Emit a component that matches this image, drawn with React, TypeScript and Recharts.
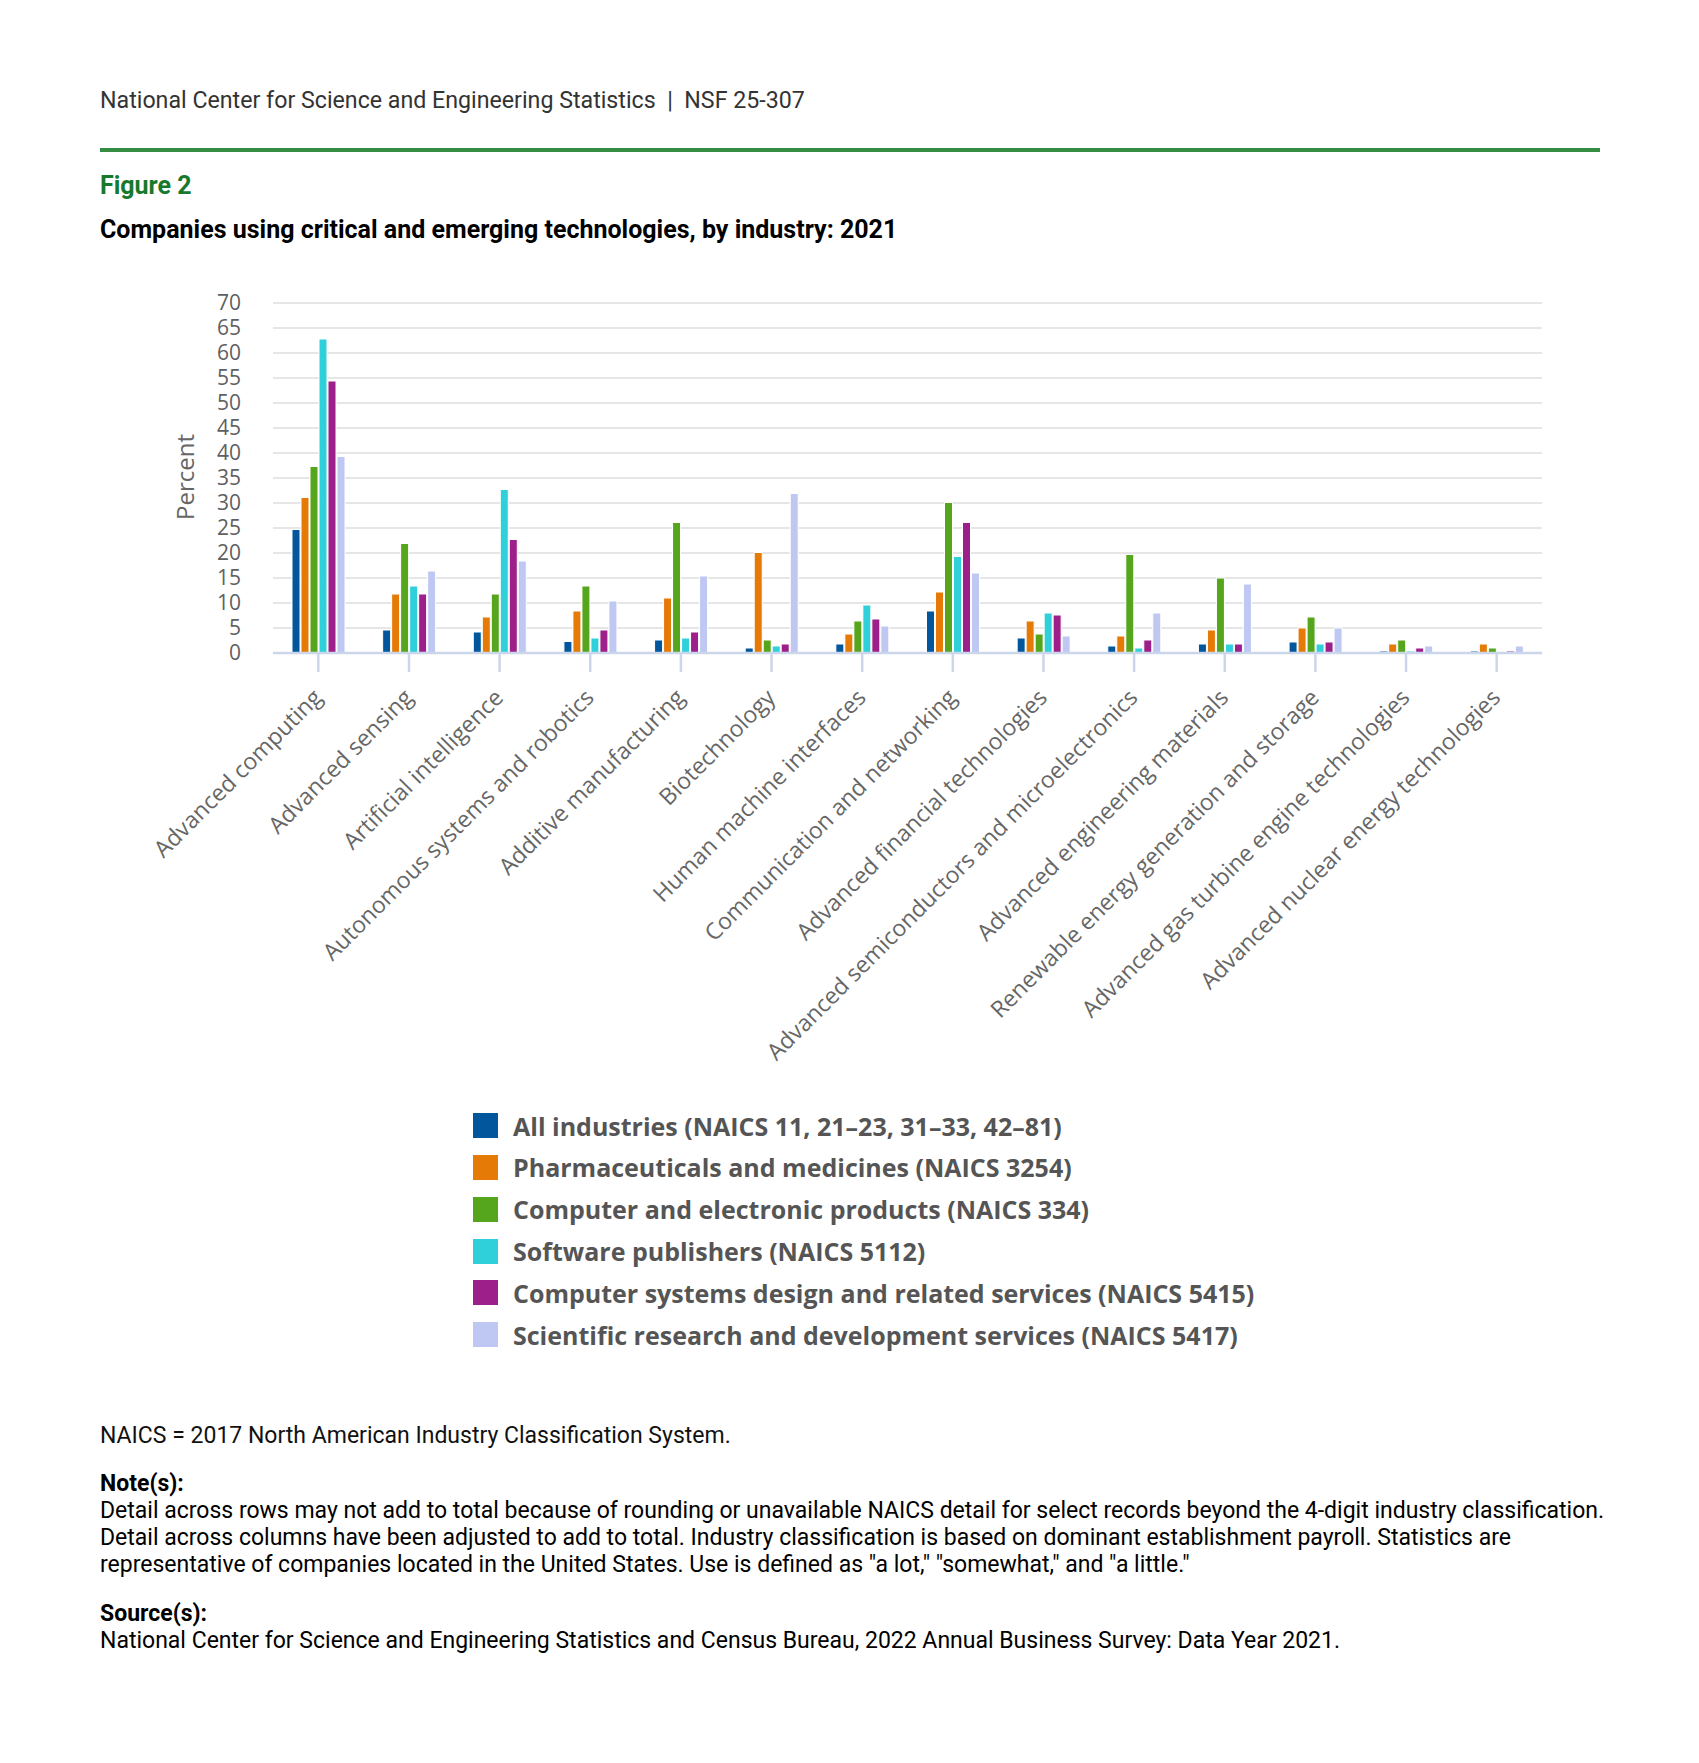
import React from "react";
import { BarChart, Bar, XAxis, YAxis, CartesianGrid } from "recharts";

const categories = [
  "Advanced computing",
  "Advanced sensing",
  "Artificial intelligence",
  "Autonomous systems and robotics",
  "Additive manufacturing",
  "Biotechnology",
  "Human machine interfaces",
  "Communication and networking",
  "Advanced financial technologies",
  "Advanced semiconductors and microelectronics",
  "Advanced engineering materials",
  "Renewable energy generation and storage",
  "Advanced gas turbine engine technologies",
  "Advanced nuclear energy technologies",
];

const allIndustries = [24.7, 4.6, 4.2, 2.3, 2.6, 1.0, 1.8, 8.4, 3.0, 1.4, 1.8, 2.2, 0.4, 0.4];
const pharma = [31.1, 11.8, 7.2, 8.4, 11.0, 20.1, 3.8, 12.2, 6.4, 3.4, 4.6, 5.0, 1.8, 1.8];
const computerElectronic = [37.3, 21.9, 11.8, 13.4, 26.1, 2.6, 6.4, 30.1, 3.8, 19.7, 15.0, 7.2, 2.6, 1.0];
const software = [62.8, 13.4, 32.7, 3.0, 3.0, 1.4, 9.6, 19.3, 8.0, 1.0, 1.8, 1.8, 0.4, 0];
const computerSystems = [54.4, 11.8, 22.7, 4.6, 4.2, 1.8, 6.8, 26.1, 7.6, 2.6, 1.8, 2.2, 1.0, 0.4];
const scientificRD = [39.3, 16.4, 18.4, 10.4, 15.4, 31.9, 5.4, 16.0, 3.4, 8.0, 13.8, 5.0, 1.4, 1.4];

const yTicks = [0, 5, 10, 15, 20, 25, 30, 35, 40, 45, 50, 55, 60, 65, 70];

const series = [
  { key: "all", name: "All industries (NAICS 11, 21–23, 31–33, 42–81)", color: "#02579c", values: allIndustries },
  { key: "pharma", name: "Pharmaceuticals and medicines (NAICS 3254)", color: "#e57a06", values: pharma },
  { key: "cep", name: "Computer and electronic products (NAICS 334)", color: "#56a61d", values: computerElectronic },
  { key: "soft", name: "Software publishers (NAICS 5112)", color: "#2fd0da", values: software },
  { key: "csd", name: "Computer systems design and related services (NAICS 5415)", color: "#9d1f89", values: computerSystems },
  { key: "srd", name: "Scientific research and development services (NAICS 5417)", color: "#bec8f2", values: scientificRD },
];

const data = categories.map((name, i) => {
  const row: Record<string, any> = { name };
  series.forEach((s) => {
    row[s.key] = s.values[i];
  });
  return row;
});

// rotated category labels, anchored at the end of the text
const CategoryTick = ({ x, y, payload }: any) => (
  <g transform={`translate(${x + 5},${y + 27})`}>
    <text
      x={0}
      y={0}
      textAnchor="end"
      transform="rotate(-45)"
      fill="#666666"
      fontSize={23}
      fontFamily="'Open Sans', sans-serif"
    >
      {payload.value}
    </text>
  </g>
);

const roboto = "Roboto, 'Liberation Sans', sans-serif";

export default function App() {
  return (
    <div
      style={{
        position: "absolute",
        left: 0,
        top: 0,
        width: 1699,
        height: 1763,
        background: "#fff",
        fontFamily: roboto,
      }}
    >
      <div style={{ position: "absolute", left: 100, top: 85, fontSize: 23.2, lineHeight: "30px", color: "#333", whiteSpace: "nowrap" }}>
        National Center for Science and Engineering Statistics&nbsp;&nbsp;|&nbsp;&nbsp;NSF 25-307
      </div>
      <div style={{ position: "absolute", left: 100, top: 148, width: 1500, height: 4, background: "#358c43" }} />
      <div style={{ position: "absolute", left: 100, top: 170, fontSize: 25, lineHeight: "32px", fontWeight: 700, color: "#17792b" }}>
        Figure 2
      </div>
      <div style={{ position: "absolute", left: 100, top: 214, fontSize: 25, lineHeight: "32px", fontWeight: 700, color: "#000", whiteSpace: "nowrap" }}>
        Companies using critical and emerging technologies, by industry: 2021
      </div>

      <div style={{ position: "absolute", left: 0, top: 0 }}>
        <BarChart
          width={1699}
          height={1110}
          data={data}
          margin={{ top: 303, right: 157, left: 0, bottom: 0 }}
          barSize={8}
          barGap={1}
        >
          <CartesianGrid vertical={false} stroke="#e6e6e6" strokeWidth={2} />
          <XAxis
            dataKey="name"
            interval={0}
            height={457}
            tickSize={19}
            tickMargin={0}
            axisLine={{ stroke: "#ccd6eb", strokeWidth: 2.5 }}
            tickLine={{ stroke: "#ccd6eb", strokeWidth: 2.5 }}
            tick={<CategoryTick />}
          />
          <YAxis
            width={273}
            domain={[0, 70]}
            ticks={yTicks}
            interval={0}
            axisLine={false}
            tickLine={false}
            tickSize={0}
            tickMargin={32}
            tick={{ fill: "#606060", fontSize: 21, fontFamily: "'Open Sans', sans-serif" }}
          />
          {series.map((s) => (
            <Bar
              key={s.key}
              dataKey={s.key}
              name={s.name}
              fill={s.color}
              stroke="#ffffff"
              strokeWidth={1}
              isAnimationActive={false}
            />
          ))}
        </BarChart>
      </div>

      <div
        style={{
          position: "absolute",
          left: 184,
          top: 477,
          transform: "translate(-50%, -50%) rotate(-90deg)",
          fontSize: 24,
          fontFamily: "'Open Sans', sans-serif",
          color: "#666666",
          whiteSpace: "nowrap",
        }}
      >
        Percent
      </div>

      {series.map((s, i) => (
        <div
          key={s.key}
          style={{
            position: "absolute",
            left: 473,
            top: 1125.5 + i * 41.85 - 16,
            height: 32,
            display: "flex",
            alignItems: "center",
            whiteSpace: "nowrap",
          }}
        >
          <div style={{ width: 25, height: 25, background: s.color, marginRight: 15 }} />
          <span style={{ fontFamily: "'Open Sans', sans-serif", fontWeight: 700, fontSize: 25, color: "#555555" }}>
            {s.name}
          </span>
        </div>
      ))}

      <div style={{ position: "absolute", left: 100, top: 1422, fontSize: 23, lineHeight: "27px", color: "#111", whiteSpace: "nowrap" }}>
        NAICS = 2017 North American Industry Classification System.
      </div>
      <div style={{ position: "absolute", left: 100, top: 1470, fontSize: 23, lineHeight: "27px", color: "#000", whiteSpace: "nowrap" }}>
        <div style={{ fontWeight: 700 }}>Note(s):</div>
        <div>Detail across rows may not add to total because of rounding or unavailable NAICS detail for select records beyond the 4-digit industry classification.</div>
        <div>Detail across columns have been adjusted to add to total. Industry classification is based on dominant establishment payroll. Statistics are</div>
        <div>representative of companies located in the United States. Use is defined as "a lot," "somewhat," and "a little."</div>
      </div>
      <div style={{ position: "absolute", left: 100, top: 1600, fontSize: 23, lineHeight: "27px", color: "#000", whiteSpace: "nowrap" }}>
        <div style={{ fontWeight: 700 }}>Source(s):</div>
        <div>National Center for Science and Engineering Statistics and Census Bureau, 2022 Annual Business Survey: Data Year 2021.</div>
      </div>
    </div>
  );
}
